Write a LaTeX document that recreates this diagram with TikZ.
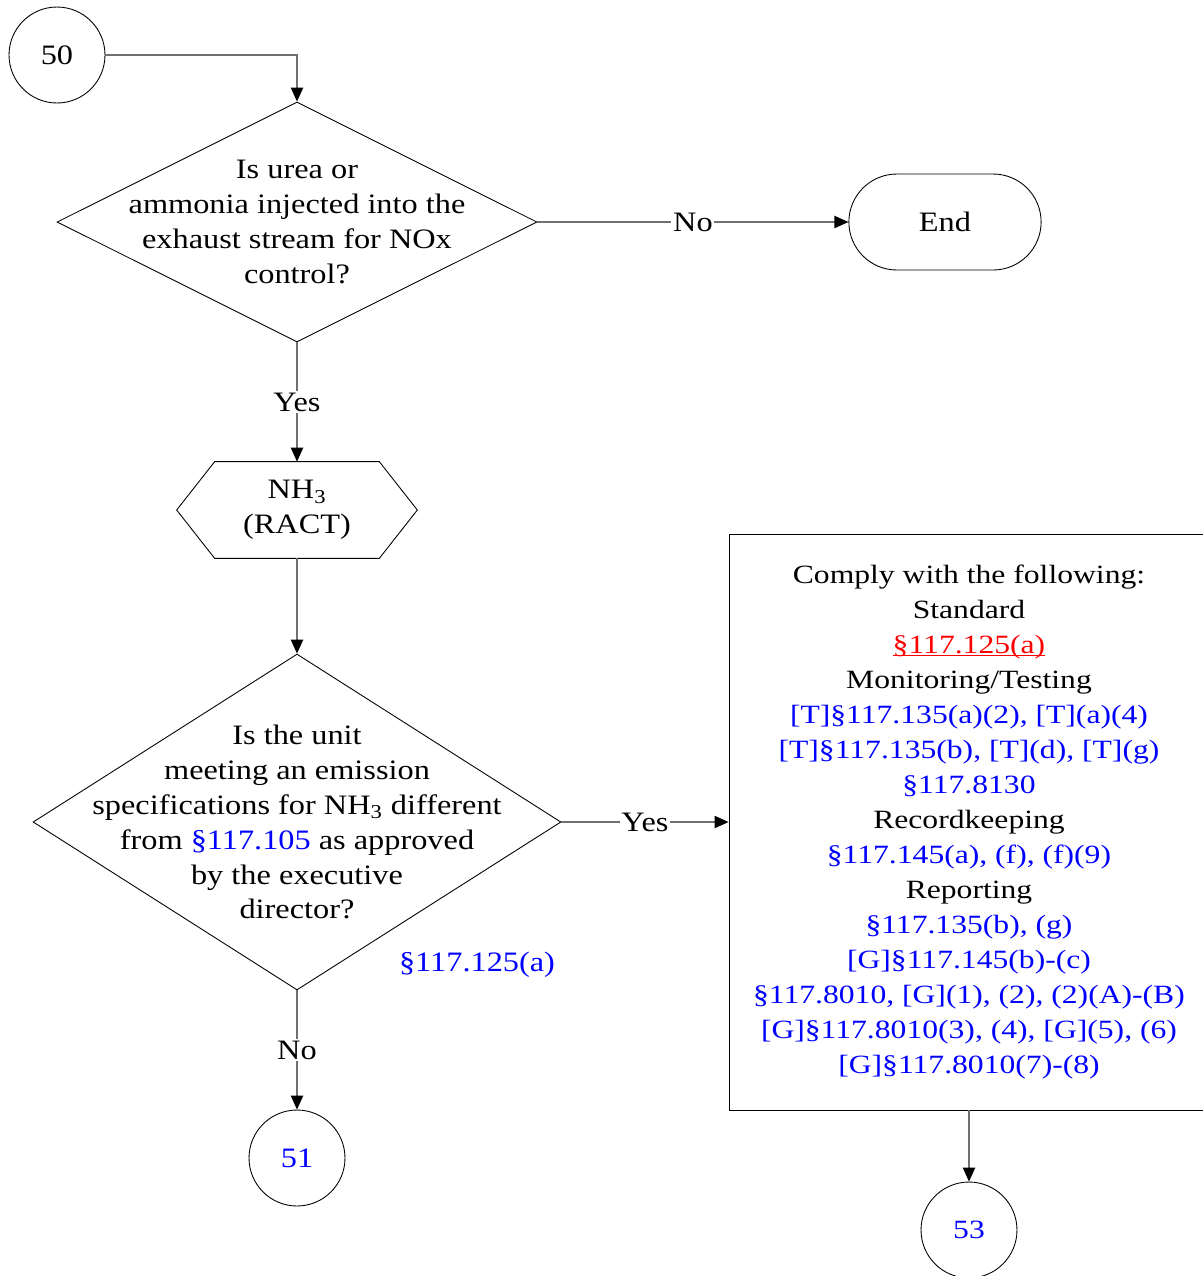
\documentclass[tikz,border=0pt]{standalone}
\usepackage{fontspec}
\setmainfont{Liberation Serif}[FakeStretch=1.15]
\newfontfamily\boxfont{Liberation Serif}[FakeStretch=1.2]
\usepackage{xcolor}
\usetikzlibrary{positioning,shapes.geometric,shapes.misc,arrows.meta}
\tikzset{>={Triangle[length=8pt,width=7pt,black]}}
\definecolor{linkblue}{RGB}{0,0,255}
\definecolor{stdred}{RGB}{255,0,0}
\definecolor{flowgray}{RGB}{112,112,112}
\newcommand{\regref}[1]{\textcolor{linkblue}{#1}}
\newcommand{\stdline}[1]{\setbox0\hbox{#1}\rlap{\rule[-1.6pt]{\wd0}{0.6pt}}\box0}
\tikzset{
  shapeline/.style={draw=black, line width=0.5pt},
  flow/.style={draw=flowgray, line width=0.75pt, ->},
  txt/.style={align=center, font=\fontsize{16}{19.9}\selectfont},
  answer/.style={fill=white, inner sep=1pt, font=\fontsize{16}{19.9}\selectfont},
}

\begin{document}
\begin{tikzpicture}[x=0.02cm, y=-0.02cm]
\clip (0,0) rectangle (1203,1276);
% shapes
\node[circle, shapeline, minimum size=1.92cm, txt] (c50) at (57,55) {50};
\node[diamond, shapeline, minimum width=9.6cm, minimum height=4.8cm, inner sep=0pt] (q1) at (297,222) {};
\node[txt] (q1text) at (q1) {Is urea or\\ammonia injected into the\\exhaust stream for NOx\\control?};
\node[rounded rectangle, shapeline, minimum width=4.08cm, minimum height=1.92cm, txt] (stop) at (945,222) {End};
\node[minimum width=4.8cm, minimum height=1.92cm, txt] (nh) at (297,510) {NH\textsubscript{3}\\(RACT)};
\draw[shapeline] (nh.west) -- ([xshift=0.76cm]nh.north west) -- ([xshift=-0.76cm]nh.north east) -- (nh.east)
  -- ([xshift=-0.76cm]nh.south east) -- ([xshift=0.76cm]nh.south west) -- cycle;
\node[diamond, shapeline, minimum width=10.56cm, minimum height=6.72cm, inner sep=0pt] (q2) at (297,822) {};
\node[txt] (q2text) at (q2) {Is the unit\\meeting an emission\\specifications for NH\textsubscript{3} different\\from \regref{§117.105} as approved\\by the executive\\director?};
\node[txt, text=linkblue] (q2ref) at (477,965) {§117.125(a)};
\node[circle, shapeline, minimum size=1.92cm, txt, text=linkblue] (c51) at (297,1158) {51};
\node[rectangle, shapeline, minimum width=9.6cm, minimum height=11.52cm, align=center,
  font=\boxfont\fontsize{15}{19.9}\selectfont] (rules) at (969,822) {Comply with the following:\\Standard\\
  \textcolor{stdred}{\stdline{§117.125(a)}}\\Monitoring/Testing\\
  \regref{[T]§117.135(a)(2), [T](a)(4)}\\\regref{[T]§117.135(b), [T](d), [T](g)}\\\regref{§117.8130}\\
  Recordkeeping\\\regref{§117.145(a), (f), (f)(9)}\\Reporting\\\regref{§117.135(b), (g)}\\
  \regref{[G]§117.145(b)-(c)}\\\regref{§117.8010, [G](1), (2), (2)(A)-(B)}\\
  \regref{[G]§117.8010(3), (4), [G](5), (6)}\\\regref{[G]§117.8010(7)-(8)}};
\node[circle, shapeline, minimum size=1.92cm, font=\boxfont\fontsize{15}{19.9}\selectfont, text=linkblue] (c53) at (969,1230) {53};
% connectors
\draw[flow] (c50.east) -| (q1.north);
\draw[flow] (q1.east) -- node[answer] (no1) {No} (stop.west);
\draw[flow] (q1.south) -- node[answer] (yes1) {Yes} (nh.north);
\draw[flow] (nh.south) -- (q2.north);
\draw[flow] (q2.east) -- node[answer] (yes2) {Yes} (rules.west);
\draw[flow] (q2.south) -- node[answer] (no2) {No} (c51.north);
\draw[flow] (rules.south) -- (c53.north);
\end{tikzpicture}
\end{document}
